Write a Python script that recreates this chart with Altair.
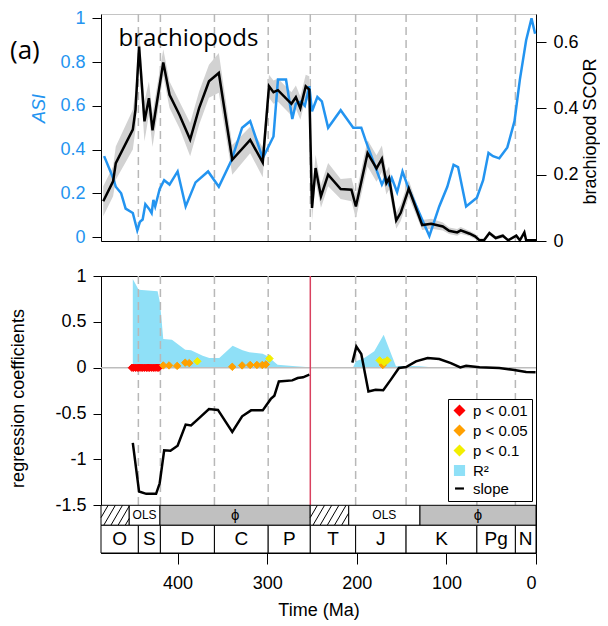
import altair as alt
import pandas as pd

# ---------------- data ----------------
asi_t = [482, 472, 469, 463, 458, 450, 445, 442, 439, 436,
         432, 429, 427, 425, 420, 415, 409, 400, 391, 380,
         366, 354, 340, 328, 319, 305, 293, 288, 279, 272,
         268, 262, 258, 253, 250, 244, 239, 232, 218, 204,
         195, 190, 172, 168, 164, 161, 155, 149, 142, 119,
         108, 99, 92, 87, 78, 66, 59, 53, 48, 41,
         32, 24, 18, 11, 5, 1]
asi_v = [0.37, 0.27, 0.23, 0.20, 0.13, 0.11, 0.03, 0.07, 0.08, 0.15,
         0.13, 0.11, 0.17, 0.14, 0.22, 0.26, 0.24, 0.30, 0.14, 0.25,
         0.30, 0.23, 0.35, 0.50, 0.53, 0.36, 0.46, 0.72, 0.72, 0.54,
         0.61, 0.62, 0.60, 0.69, 0.575, 0.64, 0.62, 0.50, 0.58, 0.50,
         0.50, 0.44, 0.24, 0.275, 0.24, 0.27, 0.205, 0.30, 0.22, 0.005,
         0.14, 0.23, 0.33, 0.32, 0.14, 0.18, 0.26, 0.385, 0.37, 0.36,
         0.41, 0.53, 0.72, 0.90, 1.0, 0.93]

scor_t = [483, 472, 469, 450, 447, 443, 437, 432, 428, 416,
          409, 398, 386, 376, 365, 354, 339, 319, 305, 298,
          293, 288, 273, 268, 263, 257, 253, 250, 246, 240,
          232, 218, 206, 201, 188, 178, 172, 167, 164, 156,
          151, 142, 127, 117, 104, 97, 88, 84, 74, 68,
          63, 58, 52, 45, 37, 31, 22, 18, 13, 11,
          4, 0]
scor_v = [0.12, 0.18, 0.235, 0.336, 0.396, 0.587, 0.361, 0.431, 0.334, 0.539,
          0.441, 0.381, 0.306, 0.401, 0.482, 0.507, 0.245, 0.305, 0.237, 0.467,
          0.449, 0.455, 0.414, 0.434, 0.401, 0.467, 0.457, 0.100, 0.220, 0.135,
          0.200, 0.157, 0.155, 0.104, 0.265, 0.219, 0.248, 0.175, 0.190, 0.062,
          0.085, 0.158, 0.048, 0.052, 0.044, 0.031, 0.026, 0.032, 0.022, 0.014,
          0.002, 0.002, 0.024, 0.009, 0.016, 0.002, 0.016, 0.002, 0.026, 0.002,
          0.002, 0.002]
scor_hw = [0.045, 0.045, 0.05, 0.06, 0.06, 0.05, 0.06, 0.05, 0.05, 0.04,
           0.04, 0.04, 0.05, 0.05, 0.05, 0.06, 0.045, 0.04, 0.045, 0.035,
           0.035, 0.035, 0.035, 0.035, 0.035, 0.035, 0.04, 0.04, 0.04, 0.035,
           0.035, 0.03, 0.035, 0.035, 0.04, 0.04, 0.04, 0.035, 0.035, 0.025,
           0.025, 0.025, 0.015, 0.015, 0.012, 0.01, 0.01, 0.01, 0.008, 0.008,
           0.006, 0.006, 0.006, 0.006, 0.006, 0.005, 0.005, 0.005, 0.005, 0.004,
           0.003, 0.003]

slope1_t = [450, 443, 435, 424, 420, 415, 408, 400, 391, 385, 376, 365,
            355, 339, 328, 318, 305, 296, 292, 287, 272, 266, 260, 253]
slope1_v = [-0.82, -1.35, -1.375, -1.375, -1.26, -0.90, -0.905, -0.85, -0.62, -0.63, -0.55, -0.45,
            -0.46, -0.70, -0.53, -0.465, -0.465, -0.34, -0.305, -0.15, -0.138, -0.112, -0.105, -0.076]
slope2_t = [205, 200.5, 195, 187, 179, 170.5, 162, 153, 145, 134,
            121, 108, 95, 84.5, 78, 63, 41, 26, 11, 0.5]
slope2_v = [0.055, 0.23, 0.15, -0.26, -0.24, -0.246, -0.13, -0.003, 0.008, 0.07,
            0.106, 0.095, 0.051, 0.004, 0.022, 0.004, -0.003, -0.022, -0.047, -0.05]

r2a_t = [450, 443.5, 422.3, 419.6, 416, 406.3, 391.5, 385, 372, 364.6,
         353.5, 338.6, 327.5, 320, 305, 299.5, 288.4, 271.7, 253]
r2a_v = [0.967, 0.85, 0.833, 0.705, 0.313, 0.305, 0.196, 0.19, 0.131, 0.106,
         0.106, 0.24, 0.19, 0.168, 0.153, 0.124, 0.033, 0.02, 0.005]
r2b_t = [204, 201, 191.6, 180.5, 170, 156.3, 148, 140, 130, 120, 100, 60, 20, 0]
r2b_v = [0.008, 0.07, 0.106, 0.179, 0.36, 0.015, 0.02, 0.02, 0.015, 0.008, 0.005, 0.004, 0.004, 0.004]

p01_t = [451, 449, 447, 445, 443, 441, 439, 437, 435, 433, 431, 429, 427, 425, 423, 421]
p01_v = [0.0] * 16
p05_t = [416, 409.5, 400.5, 391.5, 387, 339, 328, 319, 311.5, 305.5, 301.5, 171]
p05_v = [0.025, 0.025, 0.02, 0.055, 0.05, 0.01, 0.025, 0.03, 0.03, 0.03, 0.035, 0.03]
p10_t = [378, 297.5, 174.5, 169.5, 166]
p10_v = [0.07, 0.10, 0.08, 0.06, 0.08]

period_edges = [485.5, 443.8, 419.2, 358.9, 298.9, 251.9, 201.3, 145.0, 66.0, 23.0, 0.0]
period_names = ["O", "S", "D", "C", "P", "T", "J", "K", "Pg", "N"]
dash_ages = [443.8, 419.2, 358.9, 298.9, 201.3, 145.0, 66.0, 23.0]
pt_age = 251.9
method_edges = [485.5, 454.0, 419.7, 252.0, 209.0, 129.5, 0.0]
method_kind = ["hatch", "ols", "phi", "hatch", "ols", "phi"]
method_text = ["", "OLS", "ϕ", "", "OLS", "ϕ"]

legend_labels = ["p < 0.01", "p < 0.05", "p < 0.1", "R²", "slope"]

# ---------------- styling ----------------
FONT = "Liberation Sans"
BLUE = "#2394f0"
R2C = "#8fe0f7"
W, H_TOP, H_BOT = 435, 227, 277
ROW1 = (-1.5, -1.718)
ROW2 = (-1.718, -2.02)

xs = alt.Scale(domain=[0, 485.5], reverse=True, nice=False, zero=False)
asi_scale = alt.Scale(domain=[-0.018, 1.02], nice=False, zero=False)
scor_scale = alt.Scale(domain=[0, 0.685], nice=False, zero=False)
bot_scale = alt.Scale(domain=[ROW2[1], 1.0], nice=False, zero=False)

x_top_axis = alt.Axis(labels=False, ticks=False, domain=True, domainColor="black",
                      title=None, grid=False)
x_bot_axis = alt.Axis(values=[400, 300, 200, 100, 0], domain=False, tickSize=11,
                      labelPadding=10, title="Time (Ma)", titlePadding=9, grid=False)

# ---------------- top panel ----------------
asi_df = pd.DataFrame({"t": asi_t, "v": asi_v})
scor_df = pd.DataFrame({"t": scor_t, "v": scor_v,
                        "lo": [max(0.0, v - h) for v, h in zip(scor_v, scor_hw)],
                        "hi": [v + h for v, h in zip(scor_v, scor_hw)]})
top_dash_df = pd.DataFrame({"t": dash_ages + [pt_age]})

X_top = alt.X("t:Q", scale=xs, axis=x_top_axis)

top_dashes = alt.Chart(top_dash_df).mark_rule(color="#b8b8b8", strokeWidth=1.5, strokeDash=[8, 5]).encode(x=X_top)
band = alt.Chart(scor_df).mark_area(color="#d2d2d2").encode(
    x=X_top,
    y=alt.Y("lo:Q", scale=scor_scale,
            axis=alt.Axis(orient="right", values=[0, 0.2, 0.4, 0.6], labelExpr="'' + datum.value",
                          tickSize=10, labelPadding=7, title="brachiopod SCOR",
                          titleAngle=270, titleX=54, titleY=117, titleBaseline="middle",
                          titleAlign="center")),
    y2="hi:Q")
asi_line = alt.Chart(asi_df).mark_line(color=BLUE, strokeWidth=2.5).encode(
    x=X_top,
    y=alt.Y("v:Q", scale=asi_scale,
            axis=alt.Axis(orient="left", values=[0, 0.2, 0.4, 0.6, 0.8, 1],
                          labelExpr="'' + datum.value", labelColor=BLUE,
                          tickSize=9, labelPadding=7, title="ASI", titleColor=BLUE,
                          titleFontStyle="italic", titleAngle=270, titleX=-62, titleY=94,
                          titleBaseline="middle", titleAlign="center")))
scor_line = alt.Chart(scor_df).mark_line(color="black", strokeWidth=2.5).encode(
    x=X_top, y=alt.Y("v:Q", scale=scor_scale, axis=None))
lab_b = alt.Chart(pd.DataFrame({"s": ["brachiopods"]})).mark_text(
    font="Open Sans", fontSize=24, align="left", baseline="alphabetic", color="black").encode(
    text="s:N", x=alt.value(17.6), y=alt.value(32.3))
lab_a = alt.Chart(pd.DataFrame({"s": ["(a)"]})).mark_text(
    font="Open Sans", fontSize=26, align="left", baseline="alphabetic", color="black").encode(
    text="s:N", x=alt.value(-91), y=alt.value(45))

top = alt.layer(top_dashes, band, asi_line, scor_line, lab_b, lab_a).resolve_scale(
    y="independent").properties(width=W, height=H_TOP,
                                view=alt.ViewBackground(stroke="#c4c4c4", strokeWidth=1))

# ---------------- bottom panel ----------------
y_bot_axis = alt.Axis(values=[-1.5, -1, -0.5, 0, 0.5, 1], labelExpr="'' + datum.value",
                      tickSize=8, labelPadding=7, title="regression coefficients",
                      titleAngle=270, titleX=-83, titleY=122, titleBaseline="middle",
                      titleAlign="center", domainColor="black")
X_b = alt.X("t:Q", scale=xs, axis=x_bot_axis)
Y_b = lambda f: alt.Y(f, scale=bot_scale, axis=y_bot_axis)

r2_df = pd.DataFrame({"t": r2a_t + r2b_t, "v": r2a_v + r2b_v,
                      "z": [0.0] * (len(r2a_t) + len(r2b_t)),
                      "seg": ["a"] * len(r2a_t) + ["b"] * len(r2b_t)})
slope_df = pd.DataFrame({"t": slope1_t + slope2_t, "v": slope1_v + slope2_v,
                         "seg": ["a"] * len(slope1_t) + ["b"] * len(slope2_t)})
pts_df = pd.DataFrame({"t": p01_t + p05_t + p10_t, "v": p01_v + p05_v + p10_v,
                       "p": [legend_labels[0]] * len(p01_t) + [legend_labels[1]] * len(p05_t)
                            + [legend_labels[2]] * len(p10_t)})
bot_dash_df = pd.DataFrame({"t": dash_ages, "a": [1.0] * len(dash_ages), "b": [-1.5] * len(dash_ages)})

leg = alt.Legend(title=None, orient="none", legendX=347, legendY=123, direction="vertical",
                 fillColor="white", strokeColor="black", padding=4, labelFont=FONT,
                 labelFontSize=15, symbolSize=80, symbolStrokeWidth=2.2, rowPadding=1,
                 symbolOpacity=1, labelOffset=6, cornerRadius=0)
lcol = alt.Scale(domain=legend_labels, range=["#ff0000", "#ffa000", "#f2ee00", R2C, "black"])
lshape = alt.Scale(domain=legend_labels, range=["diamond", "diamond", "diamond", "square", "stroke"])

area = alt.Chart(r2_df).mark_area(color=R2C, opacity=1).encode(
    x=X_b, y=Y_b("v:Q"), y2="z:Q", detail="seg:N")
bot_dashes = alt.Chart(bot_dash_df).mark_rule(color="#b8b8b8", strokeWidth=1.5, strokeDash=[8, 5]).encode(
    x=X_b, y=Y_b("a:Q"), y2="b:Q")
zero_line = alt.Chart(pd.DataFrame({"z": [0.0]})).mark_rule(color="#bdbdbd", strokeWidth=1.5).encode(
    y=Y_b("z:Q"))
pt_line = alt.Chart(pd.DataFrame({"t": [pt_age], "a": [1.0], "b": [-1.5]})).mark_rule(
    color="#d9415f", strokeWidth=1.5).encode(x=X_b, y=Y_b("a:Q"), y2="b:Q")
slope_line = alt.Chart(slope_df).mark_line(color="black", strokeWidth=2.5).encode(
    x=X_b, y=Y_b("v:Q"), detail="seg:N")
points = alt.Chart(pts_df).mark_point(filled=True, size=55, opacity=1, strokeWidth=1).encode(
    x=X_b, y=Y_b("v:Q"),
    fill=alt.Fill("p:N", scale=lcol, legend=leg),
    stroke=alt.Stroke("p:N", scale=lcol, legend=leg),
    shape=alt.Shape("p:N", scale=lshape, legend=leg))

# time scale rows
meth_df = pd.DataFrame({
    "t": method_edges[:-1], "t1": method_edges[1:],
    "y0": [ROW1[0]] * 6, "y1": [ROW1[1]] * 6,
    "col": ["#c0c0c0" if k == "phi" else "white" for k in method_kind],
    "mid": [(a + b) / 2 for a, b in zip(method_edges[:-1], method_edges[1:])],
    "txt": method_text,
    "fs": [15 if k == "phi" else 12 for k in method_kind]})
per_df = pd.DataFrame({
    "t": period_edges[:-1], "t1": period_edges[1:],
    "y0": [ROW2[0]] * 10, "y1": [ROW2[1]] * 10,
    "mid": [(a + b) / 2 for a, b in zip(period_edges[:-1], period_edges[1:])],
    "name": period_names})

# hatch strokes for the boxes without a method
HSTEP, HSHIFT = 8.0, 13.0
hatch_rows = []
for (tl, tr), kind in zip(zip(method_edges[:-1], method_edges[1:]), method_kind):
    if kind != "hatch":
        continue
    s = tl + HSHIFT
    while s > tr:
        u0 = max(0.0, (s - tl) / HSHIFT)
        u1 = min(1.0, (s - tr) / HSHIFT)
        if u1 > u0:
            hatch_rows.append({"t": s - HSHIFT * u0, "t1": s - HSHIFT * u1,
                               "y0": ROW1[1] + (ROW1[0] - ROW1[1]) * u0,
                               "y1": ROW1[1] + (ROW1[0] - ROW1[1]) * u1})
        s -= HSTEP
hatch_df = pd.DataFrame(hatch_rows)

meth_rect = alt.Chart(meth_df).mark_rect(stroke="black", strokeWidth=1).encode(
    x=X_b, x2="t1:Q", y=Y_b("y0:Q"), y2="y1:Q", fill=alt.Fill("col:N", scale=None))
hatch = alt.Chart(hatch_df).mark_rule(color="black", strokeWidth=1).encode(
    x=X_b, x2="t1:Q", y=Y_b("y0:Q"), y2="y1:Q")
meth_txt = alt.Chart(meth_df).mark_text(font=FONT, color="black", baseline="middle").encode(
    x=alt.X("mid:Q", scale=xs, axis=x_bot_axis), y=alt.Y("yc:Q", scale=bot_scale, axis=y_bot_axis),
    text="txt:N", size=alt.Size("fs:Q", scale=None)).transform_calculate(
    yc=f"{(ROW1[0] + ROW1[1]) / 2}")
per_rect = alt.Chart(per_df).mark_rect(fill="white", stroke="black", strokeWidth=1).encode(
    x=X_b, x2="t1:Q", y=Y_b("y0:Q"), y2="y1:Q")
per_txt = alt.Chart(per_df).mark_text(font=FONT, fontSize=19, color="black", baseline="middle").encode(
    x=alt.X("mid:Q", scale=xs, axis=x_bot_axis), y=alt.Y("yc:Q", scale=bot_scale, axis=y_bot_axis),
    text="name:N").transform_calculate(yc=f"{(ROW2[0] + ROW2[1]) / 2}")

bottom = alt.layer(area, bot_dashes, zero_line, pt_line, slope_line, points,
                   meth_rect, hatch, meth_txt, per_rect, per_txt).properties(
    width=W, height=H_BOT, view=alt.ViewBackground(stroke="black", strokeWidth=1))

chart = alt.vconcat(top, bottom, spacing=35, bounds="flush").resolve_scale(
    y="independent", fill="independent", stroke="independent", shape="independent"
).resolve_legend(fill="independent", stroke="independent", shape="independent").properties(
    padding={"left": 0, "top": 0, "right": 0, "bottom": 0}, background="white"
).configure_axis(
    labelFont=FONT, titleFont=FONT, labelFontSize=18, titleFontSize=18,
    titleFontWeight="normal", grid=False, domainColor="black", tickColor="black",
    labelColor="black", titleColor="black", domainWidth=1, tickWidth=1
)

chart.save("out.html", embed_options={"renderer": "svg", "actions": False})
